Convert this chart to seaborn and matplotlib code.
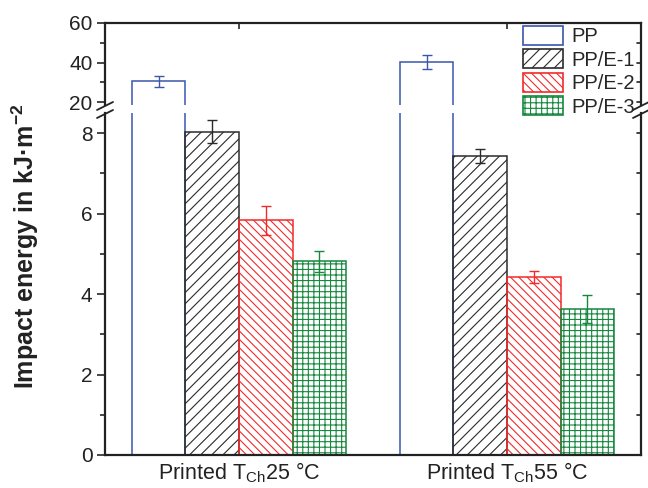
import matplotlib
matplotlib.use("Agg")
import matplotlib.pyplot as plt
from matplotlib.patches import Patch
from matplotlib.lines import Line2D
from matplotlib.ticker import MultipleLocator, FixedLocator
import pandas as pd
import seaborn as sns

# ---- data -------------------------------------------------------------
conditions = [r"Printed T$_{\mathrm{Ch}}$25 °C", r"Printed T$_{\mathrm{Ch}}$55 °C"]
materials = ["PP", "PP/E-1", "PP/E-2", "PP/E-3"]
energy_25 = [30.4, 8.04, 5.84, 4.81]
energy_55 = [40.2, 7.43, 4.43, 3.63]
error_25 = [2.7, 0.29, 0.36, 0.27]
error_55 = [3.4, 0.18, 0.15, 0.35]

colors = ["#3a56ae", "#2b2b2b", "#f22a2a", "#15883e"]
hatches = ["", "///", "\\\\\\\\", "+++"]

rows = []
for cond, vals, errs in [(conditions[0], energy_25, error_25),
                         (conditions[1], energy_55, error_55)]:
    for mat, v, e in zip(materials, vals, errs):
        rows.append({"condition": cond, "material": mat, "energy": v, "err": e})
df = pd.DataFrame(rows)

# ---- style ------------------------------------------------------------
sns.set_theme(style="ticks")
plt.rcParams["font.family"] = ["Liberation Sans", "DejaVu Sans"]
plt.rcParams["mathtext.fontset"] = "custom"
plt.rcParams["mathtext.rm"] = "Liberation Sans"
plt.rcParams["mathtext.it"] = "Liberation Sans:italic"
plt.rcParams["mathtext.bf"] = "Liberation Sans:bold"
plt.rcParams["hatch.linewidth"] = 0.8
plt.rcParams["axes.edgecolor"] = "#222222"

W, H = 648, 488
fig = plt.figure(figsize=(W / 100, H / 100), dpi=100)

def fx(px):
    return px / W

def fy(py):
    return 1 - py / H

left, right = 105, 641
ax_top = fig.add_axes([fx(left), fy(105), fx(right - left), fy(23) - fy(105)])
ax_bot = fig.add_axes([fx(left), fy(455), fx(right - left), fy(113) - fy(455)])

for ax in (ax_top, ax_bot):
    sns.barplot(data=df, x="condition", y="energy", hue="material",
                order=conditions, hue_order=materials, palette=colors,
                fill=False, linewidth=1.1, errorbar=None, legend=False,
                width=0.8, ax=ax)
    bar_groups = list(ax.containers)
    for i, cont in enumerate(bar_groups):
        mat = materials[i]
        xs, ys, es = [], [], []
        for bar in cont:
            bar.set_hatch(hatches[i])
            bar.set_edgecolor(colors[i])
            xc = bar.get_x() + bar.get_width() / 2
            ci = int(round(xc))
            sub = df[(df["condition"] == conditions[ci]) & (df["material"] == mat)]
            xs.append(xc)
            ys.append(bar.get_height())
            es.append(float(sub["err"].iloc[0]))
        ax.errorbar(xs, ys, yerr=es, fmt="none", ecolor=colors[i],
                    elinewidth=1.0, capsize=3.4, capthick=1.0, zorder=5)
    ax.set_xlim(-0.5, 1.5)
    ax.set_xlabel("")
    ax.set_ylabel("")
    for s in ax.spines.values():
        s.set_linewidth(1.6)
        s.set_visible(True)

# top segment
ax_top.set_ylim(18.5, 60)
ax_top.spines["bottom"].set_visible(False)
ax_top.yaxis.set_major_locator(FixedLocator([20, 40, 60]))
ax_top.yaxis.set_minor_locator(FixedLocator([30, 50]))
ax_top.tick_params(axis="x", which="both", bottom=False, labelbottom=False,
                   top=True, direction="in", length=4, width=1.2)
ax_top.tick_params(axis="y", which="both", left=True, right=False,
                   direction="out", labelsize=15, pad=3, width=1.2,
                   labelcolor="#222222")
ax_top.tick_params(axis="y", which="major", length=6)
ax_top.tick_params(axis="y", which="minor", length=3.6)

# bottom segment
ax_bot.set_ylim(0, 8.5)
ax_bot.spines["top"].set_visible(False)
ax_bot.yaxis.set_major_locator(MultipleLocator(2))
ax_bot.yaxis.set_minor_locator(MultipleLocator(1))
ax_bot.tick_params(axis="x", which="both", bottom=True, length=0,
                   labelsize=15.5, pad=4, labelcolor="#222222")
ax_bot.tick_params(axis="y", which="both", left=True, right=False,
                   direction="out", labelsize=15, pad=3, width=1.2,
                   labelcolor="#222222")
ax_bot.tick_params(axis="y", which="major", length=6)
ax_bot.tick_params(axis="y", which="minor", length=3.6)

# inward ticks on the right spine of both segments
for ax in (ax_top, ax_bot):
    lo, hi = ax.get_ylim()
    for loc in list(ax.get_yticks()) + list(ax.yaxis.get_minorticklocs()):
        if lo <= loc <= hi:
            ax.plot([1.0, 0.993], [loc, loc], color="#222222", lw=1.2,
                    transform=ax.get_yaxis_transform(), clip_on=False)

# axis break marks
for xc in (left, right):
    for yc in (106, 114):
        fig.add_artist(Line2D([fx(xc - 8), fx(xc + 8)], [fy(yc + 4), fy(yc - 4)],
                              transform=fig.transFigure, color="#222222", lw=1.3))

# y label
fig.text(fx(25), fy(246), r"Impact energy in kJ·m$^{\mathbf{-2}}$",
         rotation=90, ha="center", va="center", fontsize=18,
         fontweight="bold", color="#222222")

# legend
handles = [Patch(facecolor="none", edgecolor=c, hatch=h, linewidth=1.2)
           for c, h in zip(colors, hatches)]
fig.legend(handles, materials, loc="upper left",
           bbox_to_anchor=(fx(523), fy(26)), frameon=False, fontsize=14.5,
           handlelength=2.0, handleheight=1.05, handletextpad=0.4,
           labelspacing=0.16, borderpad=0, borderaxespad=0)

fig.savefig("out.png", dpi=100)
